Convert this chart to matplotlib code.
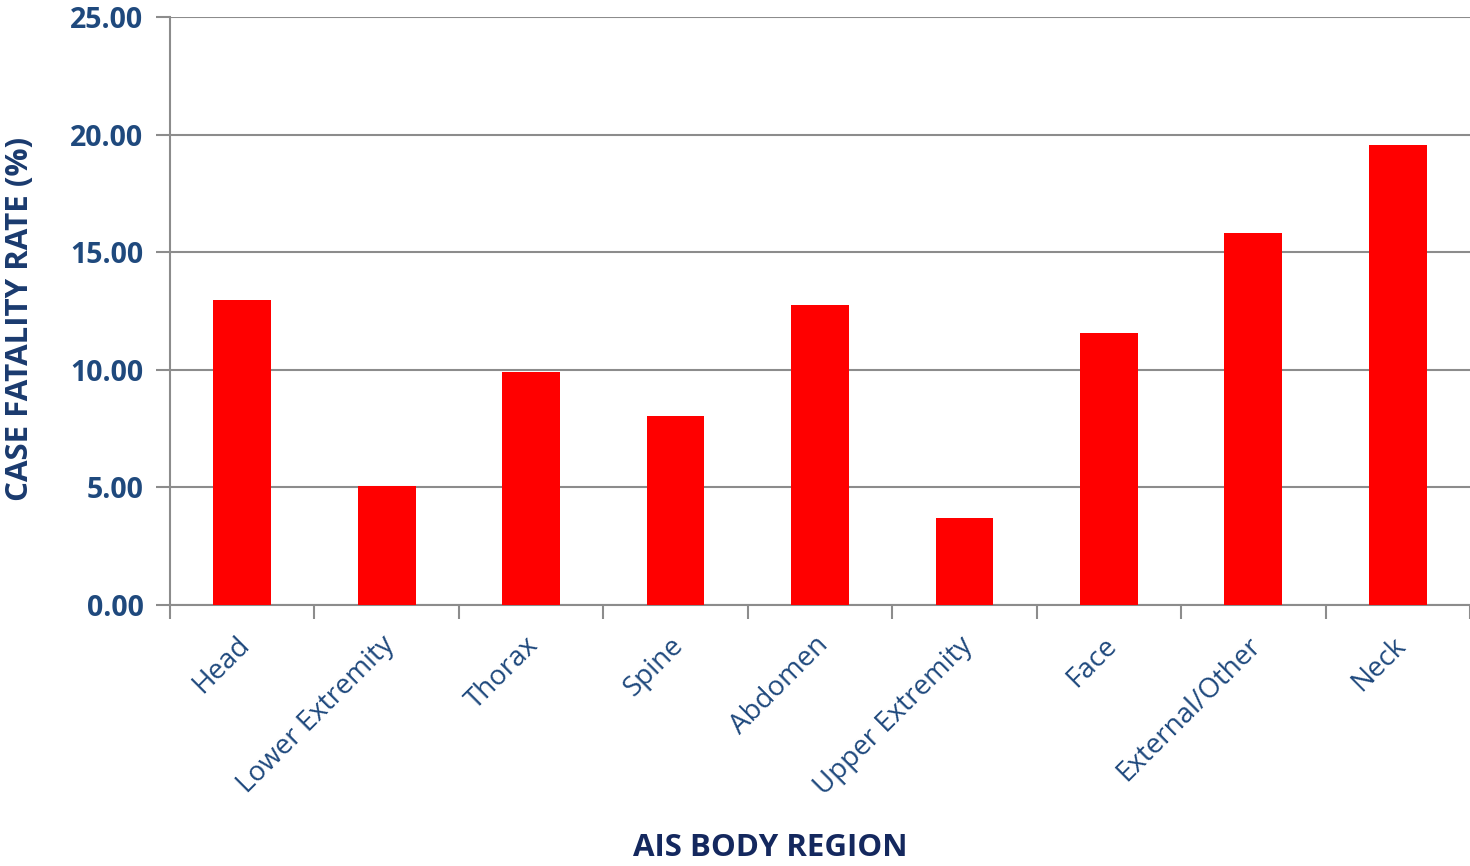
import numpy as np
import matplotlib.pyplot as plt
import matplotlib.transforms as mtransforms

# Datos
regions = ['Head', 'Lower Extremity', 'Thorax', 'Spine', 'Abdomen',
           'Upper Extremity', 'Face', 'External/Other', 'Neck']
fatality = [12.97, 5.06, 9.91, 8.04, 12.76, 3.70, 11.56, 15.81, 19.54]
y_ticks = [0, 5, 10, 15, 20, 25]

plt.rcParams['font.family'] = ['Open Sans', 'DejaVu Sans']

fig = plt.figure(figsize=(14.7, 8.66), dpi=100)
ax = fig.add_axes([0.1156, 0.3014, 0.8844, 0.679])

x = np.arange(len(regions))
ax.bar(x, fatality, width=0.4, color='#ff0000', zorder=3)

ax.set_xlim(-0.5, len(regions) - 0.5)
ax.set_ylim(0, 25)

# lineas de la cuadricula
ax.set_yticks(y_ticks)
ax.set_yticklabels([f'{v:.2f}' for v in y_ticks], fontsize=20.5, fontweight='bold',
                   color='#1f497d')
ax.yaxis.grid(True, color='#8c8c8c', linewidth=1.5, zorder=0)
ax.tick_params(axis='y', length=10, width=1.5, color='#8c8c8c', pad=9)

# marcas entre categorias
ax.set_xticks(x)
ax.set_xticklabels(regions, rotation=45, ha='right', rotation_mode='anchor',
                   fontsize=20, color='#1f497d')
ax.tick_params(axis='x', which='major', length=0, pad=19)
ax.set_xticks(np.arange(len(regions) + 1) - 0.5, minor=True)
ax.tick_params(axis='x', which='minor', length=10, width=1.5, color='#8c8c8c')
shift = mtransforms.ScaledTranslation(-0.06, 0, fig.dpi_scale_trans)
for lab in ax.get_xticklabels():
    lab.set_transform(lab.get_transform() + shift)

for s in ['top', 'right']:
    ax.spines[s].set_visible(False)
ax.spines['left'].set_color('#8c8c8c')
ax.spines['bottom'].set_color('#8c8c8c')
ax.spines['left'].set_linewidth(1.5)
ax.spines['bottom'].set_linewidth(1.5)

ax.set_ylabel('CASE FATALITY RATE (%)', fontsize=22.5, fontweight='bold',
              color='#1a3a6e')
ax.yaxis.set_label_coords(-0.104, 0.487)
fig.text(0.524, 0.004, 'AIS BODY REGION', fontsize=22.5, fontweight='bold',
         color='#14285e', ha='center', va='bottom')

fig.savefig('out.png', dpi=100)
